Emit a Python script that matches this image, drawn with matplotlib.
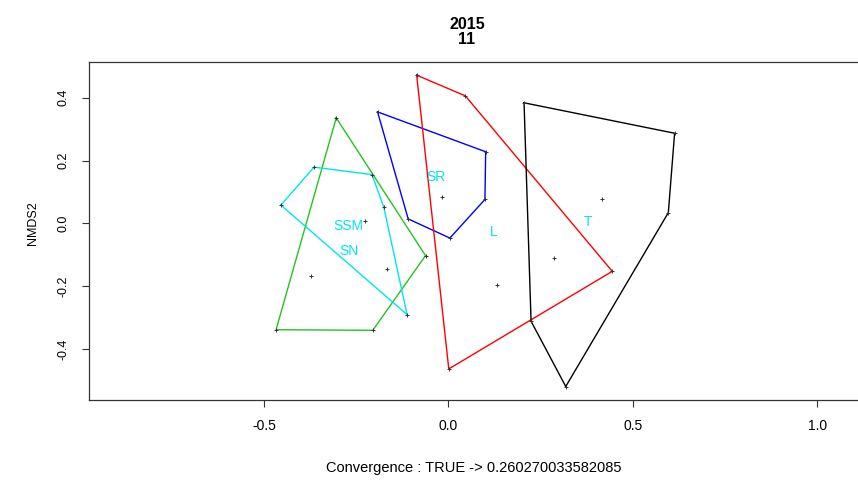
import matplotlib
matplotlib.use('Agg')
import matplotlib.pyplot as plt

plt.rcParams['font.family'] = ['Liberation Sans', 'DejaVu Sans']

# hull vertices per group (NMDS1, NMDS2)
ssm_x = [-0.304, -0.062, -0.205, -0.467]
ssm_y = [0.336, -0.103, -0.341, -0.339]
sn_x = [-0.454, -0.364, -0.207, -0.175, -0.112]
sn_y = [0.058, 0.179, 0.155, 0.051, -0.291]
sr_x = [-0.192, 0.101, 0.099, 0.004, -0.109]
sr_y = [0.355, 0.228, 0.076, -0.047, 0.014]
l_x = [-0.086, 0.046, 0.444, 0.001]
l_y = [0.472, 0.406, -0.153, -0.464]
t_x = [0.205, 0.613, 0.596, 0.318, 0.224]
t_y = [0.384, 0.287, 0.034, -0.520, -0.312]

# interior sites
pts_x = [-0.226, -0.372, -0.167, -0.018, 0.131, 0.287, 0.416]
pts_y = [0.007, -0.169, -0.146, 0.085, -0.196, -0.111, 0.078]

# group labels at centroids
labels = ['SSM', 'SN', 'SR', 'L', 'T']
lab_x = [-0.272, -0.269, -0.034, 0.123, 0.377]
lab_y = [-0.009, -0.087, 0.148, -0.027, 0.005]

groups = [(ssm_x, ssm_y, '#22c322'), (sn_x, sn_y, '#00e5ee'),
          (sr_x, sr_y, '#0000ff'), (l_x, l_y, '#ff0000'),
          (t_x, t_y, '#000000')]

fig = plt.figure(figsize=(8.58, 4.83), dpi=100)
ax = fig.add_axes([89 / 858, 1 - 400 / 483, 1 - 89 / 858, (400 - 62) / 483])

for gx, gy, col in groups:
    ax.plot(gx + gx[:1], gy + gy[:1], color=col, lw=1.0, zorder=2)
    ax.plot(gx, gy, '+', color='#333333', ms=3, mew=0.7, zorder=3)

ax.plot(pts_x, pts_y, '+', color='#333333', ms=3, mew=0.7, zorder=3)

for lab, lx, ly in zip(labels, lab_x, lab_y):
    ax.text(lx, ly, lab, color='#00e5ee', fontsize=10, ha='center', va='center')

ax.set_xlim(-0.974, 1.110)
ax.set_ylim(-0.563, 0.514)
ax.set_xticks([-0.5, 0.0, 0.5, 1.0])
ax.set_xticklabels(['-0.5', '0.0', '0.5', '1.0'])
ax.set_yticks([-0.4, -0.2, 0.0, 0.2, 0.4])
ax.set_yticklabels(['-0.4', '-0.2', '0.0', '0.2', '0.4'], rotation=90, va='center')
ax.tick_params(direction='out', length=5, width=0.8, color='#333333', pad=9)
ax.tick_params(axis='x', labelsize=10)
ax.tick_params(axis='y', labelsize=9)
ax.spines['right'].set_visible(False)
for s in ['left', 'top', 'bottom']:
    ax.spines[s].set_linewidth(0.9)
    ax.spines[s].set_color('#333333')

fig.text(33 / 858, 1 - 223 / 483, 'NMDS2', rotation=90, fontsize=9,
         ha='center', va='center')
fig.text(467 / 858, 1 - 32 / 483, '2015\n11', fontsize=11.5, fontweight='bold',
         ha='center', va='center', linespacing=1.0)
fig.text(474 / 858, 1 - 468 / 483, 'Convergence : TRUE -> 0.260270033582085',
         fontsize=10.5, ha='center', va='center')

fig.savefig('out.png', dpi=100)
